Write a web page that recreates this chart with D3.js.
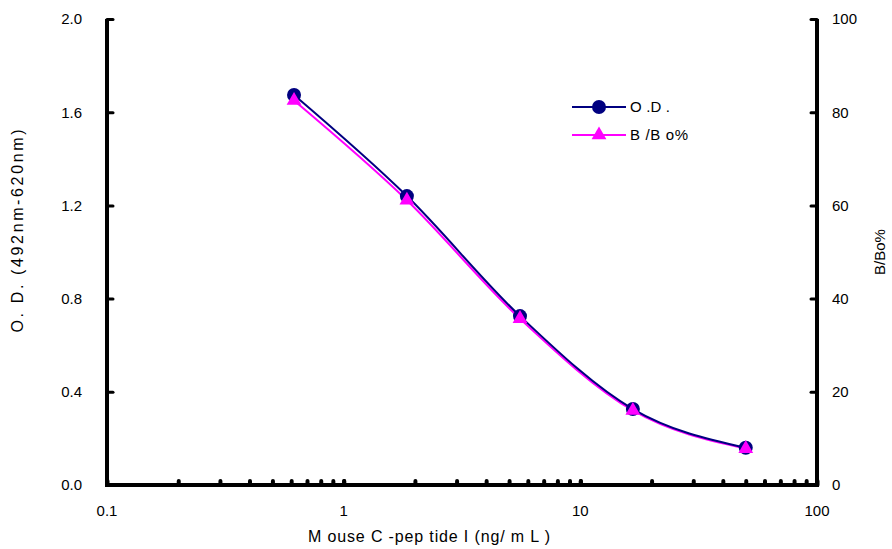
<!DOCTYPE html>
<html>
<head>
<meta charset="utf-8">
<script src="https://cdn.jsdelivr.net/npm/d3@7"></script>
<style>
  body { margin: 0; background: #fff; }
  svg text { font-family: "Liberation Sans", Arial, sans-serif; fill: #000; }
</style>
</head>
<body>
<div id="chart"></div>
<script>
// concentrations (ng/mL), 3-fold dilution series
const conc = [0.617, 1.85, 5.56, 16.67, 50];
const odValues = [1.674, 1.240, 0.725, 0.326, 0.160];
const bboValues = [82.5, 61.1, 35.7, 16.0, 7.8];
const leftTicks = [0, 0.4, 0.8, 1.2, 1.6, 2.0];
const rightTicks = [0, 20, 40, 60, 80, 100];
const xMajor = [0.1, 1, 10, 100];
const seriesNames = ['O .D .', 'B /B o%'];

function createChart() {
    const svg = d3.select('#chart').append('svg')
        .attr('width', 892)
        .attr('height', 549);

    const margin = { top: 19, right: 75, bottom: 64, left: 107 };
    const width = 892 - margin.left - margin.right;
    const height = 549 - margin.top - margin.bottom;

    const g = svg.append('g')
        .attr('transform', `translate(${margin.left},${margin.top})`);

    const x = d3.scaleLog().domain([0.1, 100]).range([0, width]);
    const yL = d3.scaleLinear().domain([0, 2]).range([height, 0]);
    const yR = d3.scaleLinear().domain([0, 100]).range([height, 0]);

    // minor + major ticks on x axis
    const xTicks = [];
    [0.1, 1, 10].forEach(d => { for (let k = 1; k <= 10; k++) xTicks.push(d * k); });

    const xAxis = g.append('g')
        .attr('transform', `translate(0,${height})`)
        .call(d3.axisBottom(x).tickValues(xTicks).tickSize(-4).tickFormat(''));
    xAxis.selectAll('.tick line').attr('stroke-width', 4).attr('stroke-linecap', 'round');
    xAxis.select('.domain').remove();

    g.selectAll('.xlab')
        .data(xMajor)
        .enter().append('text')
        .attr('x', d => x(d))
        .attr('y', height + 31)
        .attr('text-anchor', 'middle')
        .style('font-size', '15px')
        .text(d => d);

    // left axis
    const left = g.append('g')
        .call(d3.axisLeft(yL).tickValues(leftTicks).tickSize(-6).tickFormat(d3.format('.1f')).tickPadding(25));
    left.select('.domain').remove();
    left.selectAll('.tick line').attr('stroke-width', 3).attr('stroke-linecap', 'round');
    left.selectAll('text').style('font-size', '15px').style('font-family', '"Liberation Sans", Arial, sans-serif');

    // right axis
    const right = g.append('g')
        .attr('transform', `translate(${width},0)`)
        .call(d3.axisRight(yR).tickValues(rightTicks).tickSize(-6).tickPadding(15));
    right.select('.domain').remove();
    right.selectAll('.tick line').attr('stroke-width', 3).attr('stroke-linecap', 'round');
    right.selectAll('text').style('font-size', '15px').style('font-family', '"Liberation Sans", Arial, sans-serif');

    // frame lines (left, bottom, right)
    g.append('path')
        .attr('d', `M0,0V${height}H${width}V0`)
        .attr('fill', 'none')
        .attr('stroke', '#000')
        .attr('stroke-width', 4);

    // axis titles
    svg.append('text')
        .attr('transform', 'translate(23,231) rotate(-90)')
        .attr('text-anchor', 'middle')
        .attr('textLength', 203)
        .attr('lengthAdjust', 'spacing')
        .style('font-size', '16px')
        .text('O.  D.  (492nm-620nm)');

    svg.append('text')
        .attr('transform', 'translate(885,252) rotate(-90)')
        .attr('text-anchor', 'middle')
        .style('font-size', '15px')
        .text('B/Bo%');

    svg.append('text')
        .attr('x', 429)
        .attr('y', 542)
        .attr('text-anchor', 'middle')
        .attr('textLength', 242)
        .attr('lengthAdjust', 'spacing')
        .style('font-size', '16px')
        .text('M ouse  C -pep tide  I (ng/ m L )');

    const odData = conc.map((c, i) => ({ c, v: odValues[i] }));
    const bboData = conc.map((c, i) => ({ c, v: bboValues[i] }));

    // B/Bo% line (drawn first, beneath)
    g.append('path')
        .datum(bboData)
        .attr('fill', 'none')
        .attr('stroke', '#ff00ff')
        .attr('stroke-width', 2)
        .attr('d', d3.line().x(d => x(d.c)).y(d => yR(d.v)).curve(d3.curveMonotoneX));

    g.append('path')
        .datum(odData)
        .attr('fill', 'none')
        .attr('stroke', '#000080')
        .attr('stroke-width', 2)
        .attr('d', d3.line().x(d => x(d.c)).y(d => yL(d.v)).curve(d3.curveMonotoneX));

    g.selectAll('.od-dot')
        .data(odData)
        .enter().append('circle')
        .attr('cx', d => x(d.c))
        .attr('cy', d => yL(d.v))
        .attr('r', 7)
        .attr('fill', '#000080');

    const tri = d3.symbol().type(d3.symbolTriangle).size(95);
    g.selectAll('.bbo-dot')
        .data(bboData)
        .enter().append('path')
        .attr('transform', d => `translate(${x(d.c)},${yR(d.v)})`)
        .attr('d', tri)
        .attr('fill', '#ff00ff');

    // legend
    const legend = svg.append('g').attr('transform', 'translate(572,107)');
    legend.append('line').attr('x1', 0).attr('x2', 54).attr('y1', 0).attr('y2', 0)
        .attr('stroke', '#000080').attr('stroke-width', 2);
    legend.append('circle').attr('cx', 27).attr('cy', 0).attr('r', 7).attr('fill', '#000080');
    legend.append('text').attr('x', 58).attr('y', 5).attr('textLength', 40)
        .style('font-size', '15px').text(seriesNames[0]);

    legend.append('line').attr('x1', 0).attr('x2', 54).attr('y1', 28).attr('y2', 28)
        .attr('stroke', '#ff00ff').attr('stroke-width', 2);
    legend.append('path').attr('transform', 'translate(27,28)').attr('d', tri).attr('fill', '#ff00ff');
    legend.append('text').attr('x', 58).attr('y', 33).attr('textLength', 58)
        .style('font-size', '15px').text(seriesNames[1]);
}

createChart();
</script>
</body>
</html>
